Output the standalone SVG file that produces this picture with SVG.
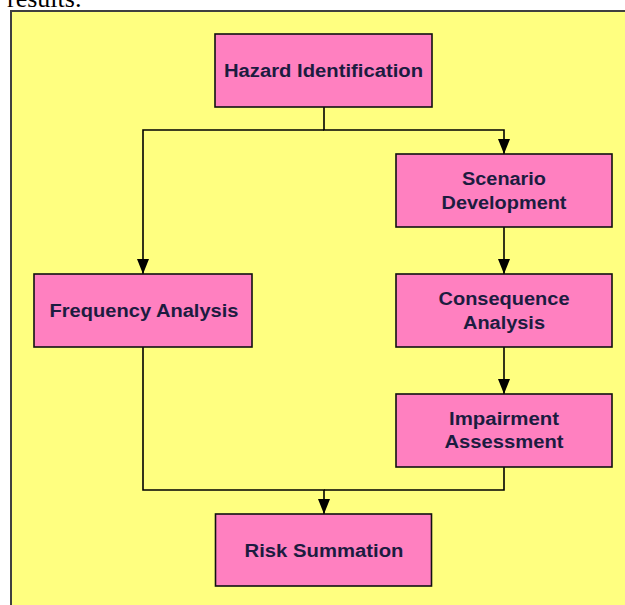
<svg xmlns="http://www.w3.org/2000/svg" width="625" height="605" viewBox="0 0 625 605">
  <style>
    .node rect { fill: #FF80C0; stroke: #111; stroke-width: 1.6; }
    .node text { font-family: "Liberation Sans", Arial, sans-serif; font-weight: bold; font-size: 18px; fill: #1c1c40; text-anchor: middle; }
    .conn path { fill: none; stroke: #000; stroke-width: 1.6; }
  </style>
  <defs>
    <marker id="arr" markerUnits="userSpaceOnUse" markerWidth="15" markerHeight="12" refX="15" refY="6" orient="auto">
      <path d="M0,0 L15,6 L0,12 z" fill="#000"/>
    </marker>
  </defs>
  <rect x="0" y="0" width="625" height="605" fill="#fff"/>
  <text x="7" y="7" font-family="'Liberation Serif', 'Times New Roman', serif" font-size="26" fill="#000">results.</text>
  <rect id="frame" x="11" y="11" width="700" height="700" fill="#FFFF80" stroke="#404040" stroke-width="2"/>

  <g id="connectors" class="conn">
    <path d="M324,107 V130 H504 V154" marker-end="url(#arr)"/>
    <path d="M324,130 H143 V274" marker-end="url(#arr)"/>
    <path d="M504,227 V274" marker-end="url(#arr)"/>
    <path d="M504,347 V394" marker-end="url(#arr)"/>
    <path d="M143,347 V490 H324 V514" marker-end="url(#arr)"/>
    <path d="M504,467 V490 H324"/>
  </g>

  <g id="hazard" class="node">
    <rect x="215" y="34" width="217" height="73"/>
    <text x="323.5" y="77" textLength="199" lengthAdjust="spacingAndGlyphs">Hazard Identification</text>
  </g>
  <g id="scenario" class="node">
    <rect x="396" y="154" width="216" height="73"/>
    <text x="504" y="185" textLength="84" lengthAdjust="spacingAndGlyphs">Scenario</text>
    <text x="504" y="209" textLength="125" lengthAdjust="spacingAndGlyphs">Development</text>
  </g>
  <g id="frequency" class="node">
    <rect x="34" y="274" width="218" height="73"/>
    <text x="144" y="317" textLength="189" lengthAdjust="spacingAndGlyphs">Frequency Analysis</text>
  </g>
  <g id="consequence" class="node">
    <rect x="396" y="274" width="216" height="73"/>
    <text x="504" y="305" textLength="131" lengthAdjust="spacingAndGlyphs">Consequence</text>
    <text x="504" y="329" textLength="82" lengthAdjust="spacingAndGlyphs">Analysis</text>
  </g>
  <g id="impairment" class="node">
    <rect x="396" y="394" width="216" height="73"/>
    <text x="504" y="425" textLength="110" lengthAdjust="spacingAndGlyphs">Impairment</text>
    <text x="504" y="448" textLength="119" lengthAdjust="spacingAndGlyphs">Assessment</text>
  </g>
  <g id="risk" class="node">
    <rect x="215.5" y="514" width="216" height="72"/>
    <text x="324" y="557" textLength="159" lengthAdjust="spacingAndGlyphs">Risk Summation</text>
  </g>
</svg>
